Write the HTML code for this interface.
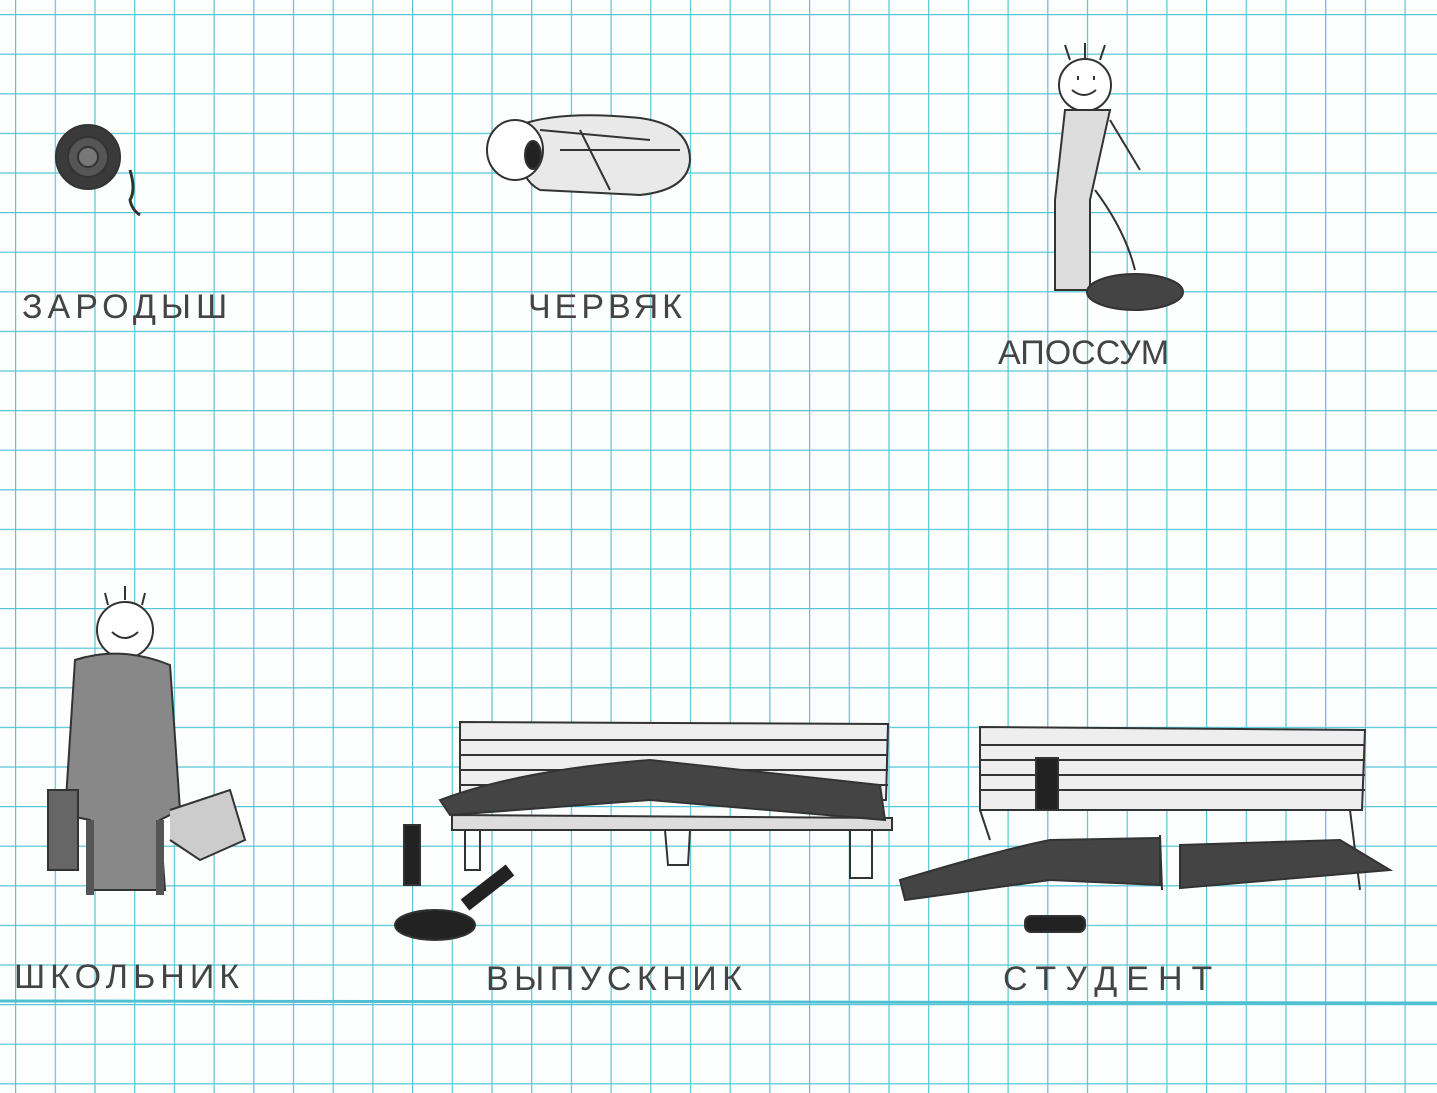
<!DOCTYPE html>
<html><head><meta charset="utf-8"><style>
html,body{margin:0;padding:0}
body{width:1437px;height:1093px;position:relative;overflow:hidden;background:#fdfefe}
svg{position:absolute;left:0;top:0}
.t{position:absolute;font-family:"Liberation Sans",sans-serif;color:#444;font-size:34px;letter-spacing:3px;font-weight:300;white-space:nowrap}
</style></head><body>
<svg width="1437" height="1093">
<defs><pattern id="g" x="15" y="14" width="39.7" height="39.6" patternUnits="userSpaceOnUse">
<path d="M0 0H39.7M0 0V39.6" stroke="#55c6d6" stroke-width="2.4" fill="none"/></pattern></defs>
<rect width="1437" height="1093" fill="#fdfefe"/>
<rect width="1437" height="1093" fill="url(#g)"/>
<line x1="0" y1="1001" x2="1437" y2="1003" stroke="#4fc0d2" stroke-width="3"/>
<g stroke="#333" fill="none" stroke-width="2">
<circle cx="88" cy="157" r="32" fill="#3a3a3a"/><circle cx="88" cy="157" r="20" fill="#555"/><circle cx="88" cy="157" r="10" fill="#777"/>
<path d="M130 170 q6 20 0 30 q2 10 10 15" stroke-width="3"/>
<path d="M520 125 Q560 110 640 118 Q690 125 690 160 Q688 190 640 195 L540 190 Q520 180 520 150Z" fill="#e9e9e9"/>
<path d="M540 130 L650 140 M560 150 L680 150 M580 130 L610 190"/>
<ellipse cx="515" cy="150" rx="28" ry="30" fill="#fff"/>
<ellipse cx="533" cy="155" rx="8" ry="14" fill="#222"/>
<circle cx="1085" cy="85" r="26" fill="#fff"/>
<path d="M1072 90 q12 10 24 0 M1078 76 v4 M1094 76 v4"/>
<path d="M1070 60 l-5 -15 M1085 58 l0 -15 M1100 60 l5 -15"/>
<path d="M1065 110 L1055 200 L1055 290 L1090 290 L1090 200 L1110 110Z" fill="#ddd"/>
<path d="M1110 120 L1140 170 M1095 190 q30 40 40 80"/>
<ellipse cx="1135" cy="292" rx="48" ry="18" fill="#444"/>
<circle cx="125" cy="630" r="28" fill="#fff"/>
<path d="M112 632 q13 12 26 0"/>
<path d="M108 605 l-3 -12 M125 600 l0 -14 M142 605 l3 -12"/>
<path d="M75 660 Q120 645 170 665 L180 810 L160 820 L165 890 L90 890 L90 820 L65 815 Z" fill="#888"/>
<path d="M90 820 L90 895 M160 820 L160 895" stroke-width="8" stroke="#555"/>
<rect x="48" y="790" width="30" height="80" fill="#666"/>
<path d="M170 810 L230 790 L245 840 L200 860 L170 840" fill="#ccc"/>
<path d="M460 722 L888 724 L886 800 L460 800Z" fill="#eee"/>
<path d="M460 740 H888 M460 755 H888 M460 770 H888 M460 785 H888"/>
<path d="M452 815 L892 818 L892 830 L452 830Z" fill="#ddd"/>
<path d="M465 830 L465 870 L480 870 L480 830 M665 830 L668 865 L688 865 L690 830 M850 830 L850 878 L872 878 L872 830"/>
<path d="M440 800 Q520 770 650 760 L880 785 L885 820 L650 800 L450 815Z" fill="#444"/>
<rect x="404" y="825" width="16" height="60" fill="#222"/>
<path d="M465 905 L510 870" stroke-width="14" stroke="#222"/>
<ellipse cx="435" cy="925" rx="40" ry="15" fill="#222"/>
<path d="M980 727 L1365 730 L1362 810 L980 810Z" fill="#eee"/>
<path d="M980 745 H1365 M980 760 H1365 M980 775 H1365 M980 790 H1365"/>
<rect x="1036" y="758" width="22" height="52" fill="#222"/>
<path d="M980 810 L990 840 M1160 835 L1162 890 M1350 810 L1360 890"/>
<path d="M900 880 Q1000 850 1050 840 L1160 838 L1160 885 L1050 880 L905 900Z" fill="#444"/>
<path d="M1180 845 L1340 840 L1390 870 L1180 888Z" fill="#444"/>
<rect x="1025" y="916" width="60" height="16" rx="6" fill="#222"/>
</g>
</svg>
<div class="t" style="left:22px;top:288px;letter-spacing:5px">ЗАРОДЫШ</div>
<div class="t" style="left:528px;top:288px;letter-spacing:4px">ЧЕРВЯК</div>
<div class="t" style="left:998px;top:334px;letter-spacing:0px">АПОССУМ</div>
<div class="t" style="left:14px;top:958px;letter-spacing:5px">ШКОЛЬНИК</div>
<div class="t" style="left:486px;top:960px;letter-spacing:5.5px">ВЫПУСКНИК</div>
<div class="t" style="left:1003px;top:960px;letter-spacing:9px">СТУДЕНТ</div>
</body></html>
